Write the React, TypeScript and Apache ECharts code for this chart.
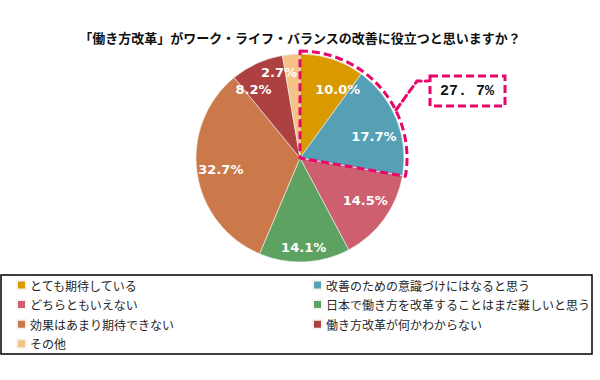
import React, { useEffect, useRef } from "react";
import * as echarts from "echarts";

const titleText = "「働き方改革」がワーク・ライフ・バランスの改善に役立つと思いますか？";
const categories = [
  "とても期待している",
  "改善のための意識づけにはなると思う",
  "どちらともいえない",
  "日本で働き方を改革することはまだ難しいと思う",
  "効果はあまり期待できない",
  "働き方改革が何かわからない",
  "その他",
];
const values = [10.0, 17.7, 14.5, 14.1, 32.7, 8.2, 2.7];
const colors = ["#D99A00", "#55A0B5", "#CD5F6F", "#5EA262", "#CB784A", "#AD4040", "#F5C387"];
const highlightCount = 2;
// small label nudges (pixels) so that neighbouring labels do not collide, as in the original
const labelNudges: [number, number][] = [
  [12, 10],
  [-3, 10],
  [-2, -6],
  [0, 7],
  [3, 0],
  [-12, 7],
  [-14, -3],
];

const JP = "'Noto Sans CJK JP', 'Noto Sans', sans-serif";
const PINK = "#E8066A";

export default function App() {
  const ref = useRef<HTMLDivElement>(null);
  useEffect(() => {
    if (!ref.current) return;
    const chart = echarts.init(ref.current, null, { renderer: "svg" });
    const highlighted = values.slice(0, highlightCount).reduce((a, b) => a + b, 0);
    const total = values.reduce((a, b) => a + b, 0);
    const hlStr = highlighted.toFixed(1).split(".");
    const center = [300, 158];
    const R = 104;

    const data = categories.map((name, i) => ({
      name,
      value: values[i],
      itemStyle: { color: colors[i] },
    }));

    chart.setOption({
      animation: false,
      title: {
        text: titleText,
        left: "center",
        top: 26,
        textStyle: { fontFamily: JP, fontSize: 13, fontWeight: "bold", color: "#111" },
      },
      legend: [
        {
          orient: "vertical",
          left: 16,
          top: 279,
          padding: 0,
          itemWidth: 9,
          itemHeight: 9,
          itemGap: 7.6,
          icon: "rect",
          selectedMode: false,
          data: categories.filter((_, i) => i % 2 === 0),
          textStyle: { fontFamily: JP, fontSize: 12, color: "#262626", padding: [0, 0, 0, -1] },
        },
        {
          orient: "vertical",
          left: 312,
          top: 279,
          padding: 0,
          itemWidth: 9,
          itemHeight: 9,
          itemGap: 7.6,
          icon: "rect",
          selectedMode: false,
          data: categories.filter((_, i) => i % 2 === 1),
          textStyle: { fontFamily: JP, fontSize: 12, color: "#262626", padding: [0, 0, 0, -1] },
        },
      ],
      series: [
        {
          type: "pie",
          center,
          radius: R,
          startAngle: 90,
          clockwise: true,
          silent: true,
          label: { show: false },
          labelLine: { show: false },
          itemStyle: { borderColor: "#f4f4f4", borderWidth: 0.6 },
          data,
        },
        {
          type: "pie",
          center,
          radius: [56, R],
          startAngle: 90,
          clockwise: true,
          silent: true,
          avoidLabelOverlap: false,
          z: 5,
          itemStyle: { color: "rgba(0,0,0,0)", borderWidth: 0 },
          label: {
            show: true,
            position: "inside",
            formatter: (p: any) => `${Number(p.value).toFixed(1)}%`,
            color: "#fff",
            fontFamily: "'DejaVu Sans', Verdana, sans-serif",
            fontWeight: "bold",
            fontSize: 13,
          },
          labelLayout: (p: any) => {
            const n = labelNudges[p.dataIndex] || [0, 0];
            return { dx: n[0], dy: n[1], hideOverlap: false };
          },
          labelLine: { show: false },
          data: categories.map((name, i) => ({ name, value: values[i] })),
        },
        {
          type: "pie",
          center,
          radius: 107,
          startAngle: 90,
          clockwise: true,
          silent: true,
          z: 6,
          label: { show: false },
          labelLine: { show: false },
          data: [
            {
              name: "highlight",
              value: highlighted,
              itemStyle: {
                color: "rgba(0,0,0,0)",
                borderColor: PINK,
                borderWidth: 3,
                borderType: [8, 4],
              },
            },
            {
              name: "rest",
              value: total - highlighted,
              itemStyle: { color: "rgba(0,0,0,0)", borderWidth: 0 },
            },
          ],
        },
      ],
      graphic: [
        {
          type: "rect",
          shape: { x: 1, y: 275, width: 591, height: 79 },
          style: { fill: "none", stroke: "#000", lineWidth: 1.5 },
          silent: true,
        },
        {
          type: "polyline",
          shape: { points: [[396, 110], [417, 81], [428, 81]] },
          style: { stroke: PINK, lineWidth: 3, lineDash: [7, 4], fill: "none", lineCap: "round" },
          silent: true,
        },
        {
          type: "rect",
          shape: { x: 430, y: 76, width: 75, height: 30 },
          style: { fill: "#fff", stroke: PINK, lineWidth: 3, lineDash: [8, 4] },
          silent: true,
        },
        {
          type: "text",
          x: 467,
          y: 91,
          style: {
            text: `${hlStr[0]}. ${hlStr[1]}%`,
            fontFamily: "'Liberation Mono', 'DejaVu Sans Mono', monospace",
            fontSize: 15,
            fontWeight: "bold",
            fill: "#111",
            align: "center",
            verticalAlign: "middle",
          },
          silent: true,
        },
      ],
    });
    return () => chart.dispose();
  }, []);
  return (
    <div
      ref={ref}
      style={{ position: "absolute", left: 0, top: 0, width: 600, height: 380, background: "#fff" }}
    />
  );
}
